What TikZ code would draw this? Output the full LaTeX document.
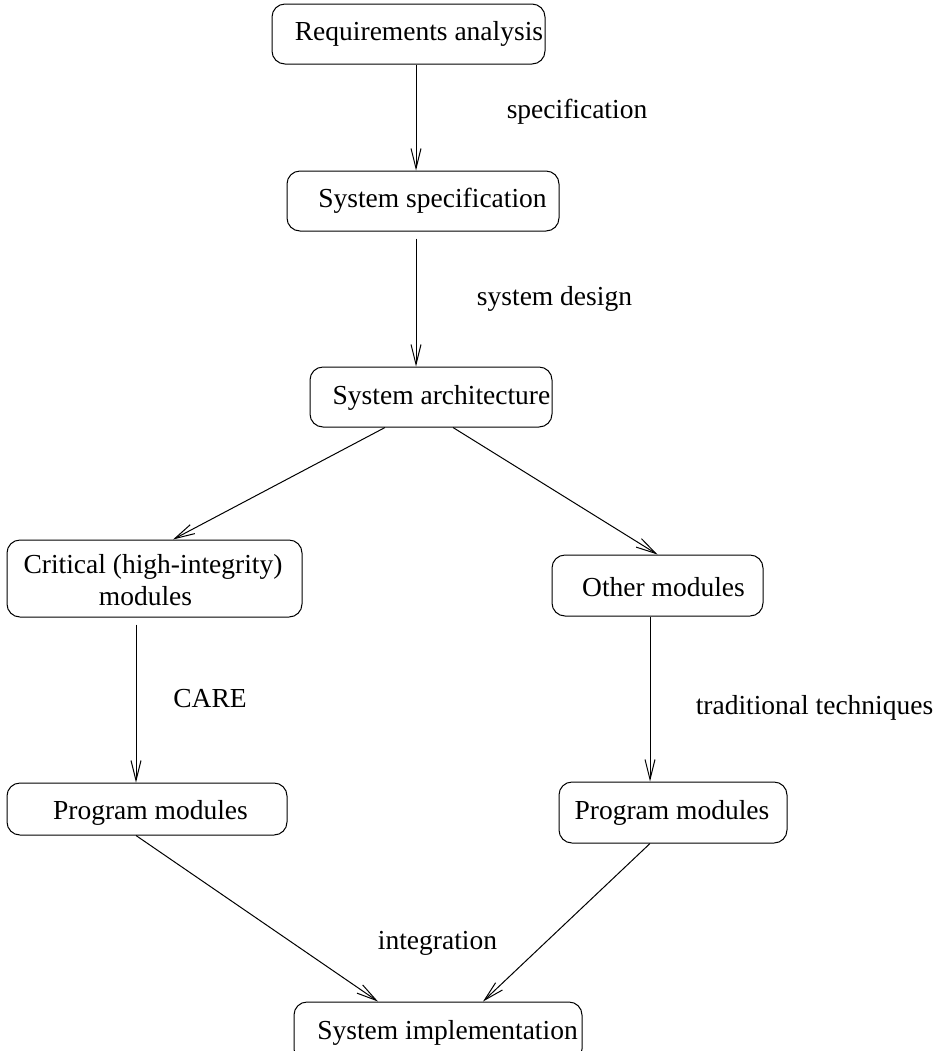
\documentclass[tikz,border=0pt]{standalone}
\usepackage{fontspec}
\setmainfont{Liberation Serif}
\usepackage{tikz}
\usetikzlibrary{arrows.meta}
\usetikzlibrary{positioning}
\tikzset{stagebox/.style = {draw, rounded corners = 6.5pt, inner sep = 0, line width = 0.5pt}}
\tikzset{flow/.style = {line width = 0.5pt, -{Straight Barb[length = 10pt, width = 5pt]}}}
\tikzset{lbl/.style = {inner sep = 0, align = center}}

\begin{document}
\begin{tikzpicture}[x = 0.5pt, y = -0.5pt, font = \fontsize{13.75}{16}\selectfont]
      \useasboundingbox (0, 0) rectangle (936, 1051);
      \clip (0, 0) rectangle (936, 1051);

      % boxes
      \node [stagebox, minimum width = 136.5pt, minimum height = 30pt] (req) at (408.5, 34) {};
      \node [stagebox, minimum width = 136pt, minimum height = 30pt] (spec) at (423, 201) {};
      \node [stagebox, minimum width = 121pt, minimum height = 30pt] (arch) at (431, 397) {};
      \node [stagebox, minimum width = 147.5pt, minimum height = 38.5pt] (crit) at (154.5, 578.5) {};
      \node [stagebox, minimum width = 105.5pt, minimum height = 30.5pt] (other) at (657.5, 585.5) {};
      \node [stagebox, minimum width = 140pt, minimum height = 26pt] (progl) at (147, 809) {};
      \node [stagebox, minimum width = 114pt, minimum height = 30.5pt] (progr) at (673, 812.5) {};
      \node [stagebox, minimum width = 144pt, minimum height = 30pt] (impl) at (438, 1032) {};

      % box texts
      \node [lbl] (req-t) at (419, 34) {Requirements analysis};
      \node [lbl] (spec-t) at (432.5, 201) {System specification};
      \node [lbl] (arch-t) at (441.5, 398) {System architecture};
      \node [lbl] (crit-t) at (153, 580) {Critical (high-integrity)\\modules\hspace*{7.5pt}};
      \node [lbl] (other-t) at (663.5, 587) {Other modules};
      \node [lbl] (progl-t) at (150.5, 813) {Program modules};
      \node [lbl] (progr-t) at (672, 813) {Program modules};
      \node [lbl] (impl-t) at (447.5, 1033) {System implementation};

      % step labels
      \node [lbl] (l-spec) at (577, 112) {specification};
      \node [lbl] (l-design) at (554.5, 299) {system design};
      \node [lbl] (l-care) at (210, 699) {CARE};
      \node [lbl] (l-trad) at (814.5, 708) {traditional techniques};
      \node [lbl] (l-int) at (437.5, 943) {integration};

      % arrows
      \draw [flow] ([xshift = 3.75pt] req.south) -- ([xshift = -3.5pt] spec.north);
      \draw [flow] ([xshift = -3.5pt, yshift = -3.5pt] spec.south) -- ([xshift = -7.5pt] arch.north);
      \draw [flow] ([xshift = -23pt] arch.south) -- ([xshift = 9.25pt] crit.north);
      \draw [flow] ([xshift = 11pt] arch.south) -- (other.north);
      \draw [flow] ([xshift = -9.25pt, yshift = -3.5pt] crit.south) -- ([xshift = -5.5pt] progl.north);
      \draw [flow] ([xshift = -3.75pt] other.south) -- ([xshift = -11.5pt] progr.north);
      \draw [flow] ([xshift = -5.5pt] progl.south) -- ([xshift = -30pt] impl.north);
      \draw [flow] ([xshift = -11.5pt] progr.south) -- ([xshift = 22.5pt] impl.north);
    \end{tikzpicture}
\end{document}
